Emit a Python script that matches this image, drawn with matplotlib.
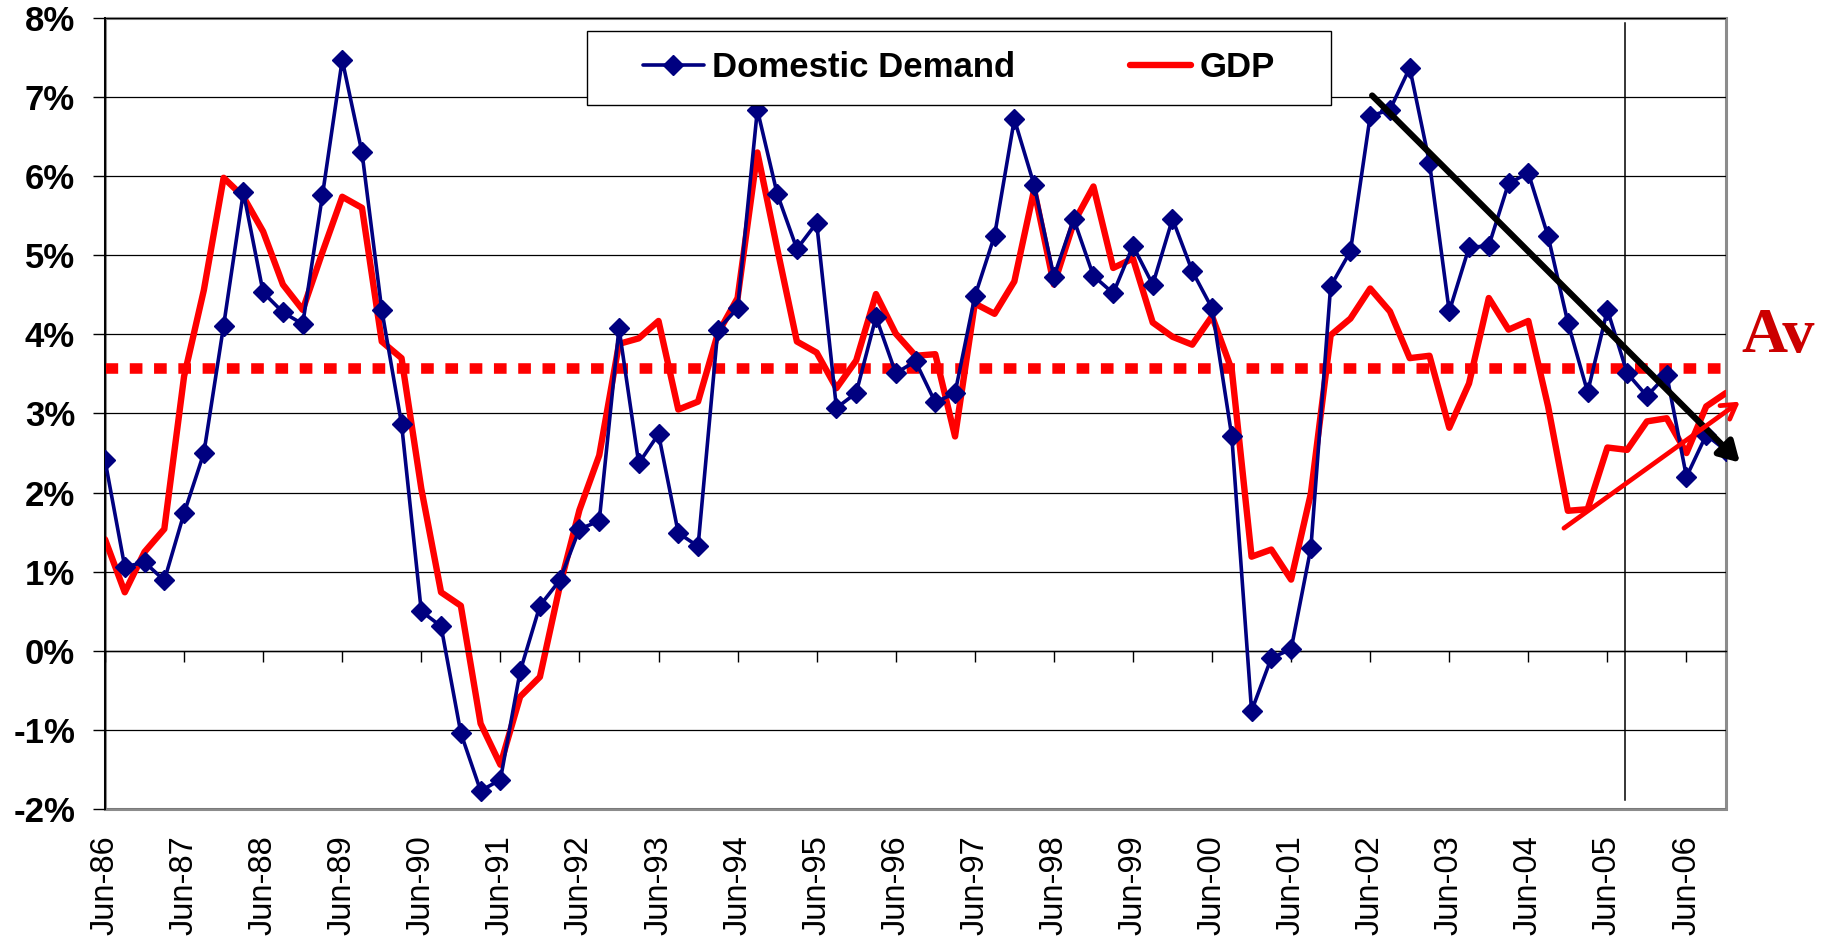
import matplotlib.pyplot as plt
from matplotlib.patches import Rectangle

# quarterly growth (% yoy), Jun-86 .. Dec-06
domestic_demand = [
    2.41, 1.06, 1.12, 0.89, 1.74, 2.50, 4.11, 5.80, 4.53, 4.28,
    4.13, 5.76, 7.47, 6.30, 4.31, 2.87, 0.50, 0.31, -1.04, -1.77,
    -1.63, -0.26, 0.57, 0.89, 1.54, 1.64, 4.08, 2.37, 2.74, 1.49,
    1.32, 4.06, 4.33, 6.84, 5.78, 5.08, 5.41, 3.07, 3.26, 4.22,
    3.51, 3.66, 3.14, 3.26, 4.48, 5.25, 6.72, 5.89, 4.73, 5.46,
    4.74, 4.52, 5.12, 4.63, 5.46, 4.80, 4.33, 2.71, -0.76, -0.09,
    0.02, 1.30, 4.61, 5.05, 6.76, 6.84, 7.37, 6.17, 4.29, 5.10,
    5.12, 5.91, 6.04, 5.24, 4.15, 3.27, 4.31, 3.51, 3.22, 3.49,
    2.20, 2.73, 2.53,
]
gdp = [
    1.41, 0.74, 1.25, 1.54, 3.47, 4.56, 5.98, 5.74, 5.30, 4.63,
    4.31, 5.04, 5.74, 5.60, 3.91, 3.70, 2.05, 0.74, 0.57, -0.92,
    -1.44, -0.58, -0.33, 0.81, 1.78, 2.47, 3.88, 3.95, 4.17, 3.05,
    3.15, 4.01, 4.46, 6.30, 5.09, 3.91, 3.77, 3.32, 3.67, 4.51,
    4.01, 3.73, 3.75, 2.71, 4.39, 4.26, 4.67, 5.83, 4.63, 5.41,
    5.87, 4.84, 4.96, 4.15, 3.97, 3.87, 4.23, 3.55, 1.19, 1.28,
    0.90, 1.99, 3.99, 4.20, 4.58, 4.29, 3.70, 3.73, 2.82, 3.38,
    4.46, 4.06, 4.17, 3.09, 1.77, 1.79, 2.57, 2.54, 2.90, 2.94,
    2.50, 3.09, 3.26,
]
quarter = list(range(len(gdp)))
year_labels = ['Jun-%02d' % (y % 100) for y in range(1986, 2007)]
year_ticks = quarter[::4]
average_gdp = 3.58

# hand-drawn annotations (quarter index, %)
dd_trend = ((64.1, 7.02), (82.7, 2.38))
gdp_trend = ((73.8, 1.55), (82.7, 3.15))
marker_line_q = 76.9

plt.rcParams['font.family'] = ['Liberation Sans', 'DejaVu Sans']

fig = plt.figure(figsize=(18.31, 9.38), dpi=100)
ax = fig.add_axes([0.05735, 0.13753, 0.88531, 0.84328])

# category axis crosses at 0, labels sit below the plot
ax.spines['bottom'].set_position(('data', 0))
ax.spines['bottom'].set_linewidth(1.0)
ax.spines['left'].set_linewidth(1.4)
for s in ('top', 'right'):
    ax.spines[s].set_visible(False)

ax.set_xlim(0, len(gdp) - 1)
ax.set_ylim(-2, 8)

ax.set_yticks(range(-2, 9))
ax.set_yticklabels(['%d%%' % v for v in range(-2, 9)], fontsize=25, fontweight='bold')
ax.yaxis.grid(True, color='black', lw=0.9)
ax.set_axisbelow(True)

ax.set_xticks(year_ticks)
ax.set_xticklabels(year_labels, rotation=90, fontsize=23.5)
ax.tick_params(axis='x', length=8, width=1, direction='out', pad=125)
ax.tick_params(axis='y', length=8.6, width=1, direction='out', pad=13)

ax.add_patch(Rectangle((0, 0), 1, 1, transform=ax.transAxes, fill=False,
                       ec='#8c8c8c', lw=2.2, clip_on=False, zorder=0.5))

# average GDP growth
ax.axhline(average_gdp, color='#ff0000', lw=7.6, linestyle=(0, (1.2, 1.1)),
           dash_capstyle='butt', zorder=1.5)

ax.plot(quarter, domestic_demand, color='#000080', lw=2.6, marker='D', ms=10,
        mec='#000080', solid_joinstyle='round', solid_capstyle='round',
        label='Domestic Demand', zorder=3)
ax.plot(quarter, gdp, color='#ff0000', lw=4.6, solid_joinstyle='round',
        solid_capstyle='round', label='GDP', zorder=2.5)

ax.axvline(marker_line_q, ymin=0.011, ymax=0.994, color='black', lw=1.1)

ax.annotate('', xy=dd_trend[1], xytext=dd_trend[0], annotation_clip=False,
            arrowprops=dict(arrowstyle='-|>,head_length=0.6,head_width=0.35',
                            mutation_scale=20, lw=4.5, color='black',
                            shrinkA=0, shrinkB=0), zorder=4)
ax.annotate('', xy=gdp_trend[1], xytext=gdp_trend[0], annotation_clip=False,
            arrowprops=dict(arrowstyle='->,head_length=0.5,head_width=0.3',
                            mutation_scale=20, lw=3.4, color='#ff0000',
                            shrinkA=0, shrinkB=0), zorder=4)

# legend box
ax.add_patch(Rectangle((0.2973, 0.890), 0.459, 0.0936, transform=ax.transAxes,
                       fc='white', ec='black', lw=1.0, clip_on=False, zorder=4.5))
ax.legend(loc='center', bbox_to_anchor=(0.5268, 0.9368), ncol=2, frameon=False,
          prop={'size': 25, 'weight': 'bold'}, handlelength=1.75,
          handletextpad=0.25, columnspacing=3.3)

fig.text(0.951, 1 - 352 / 938, 'Av', color='#cc0000', fontsize=46,
         fontweight='bold', family='Liberation Serif', va='baseline')

fig.savefig('out.png', dpi=100)
